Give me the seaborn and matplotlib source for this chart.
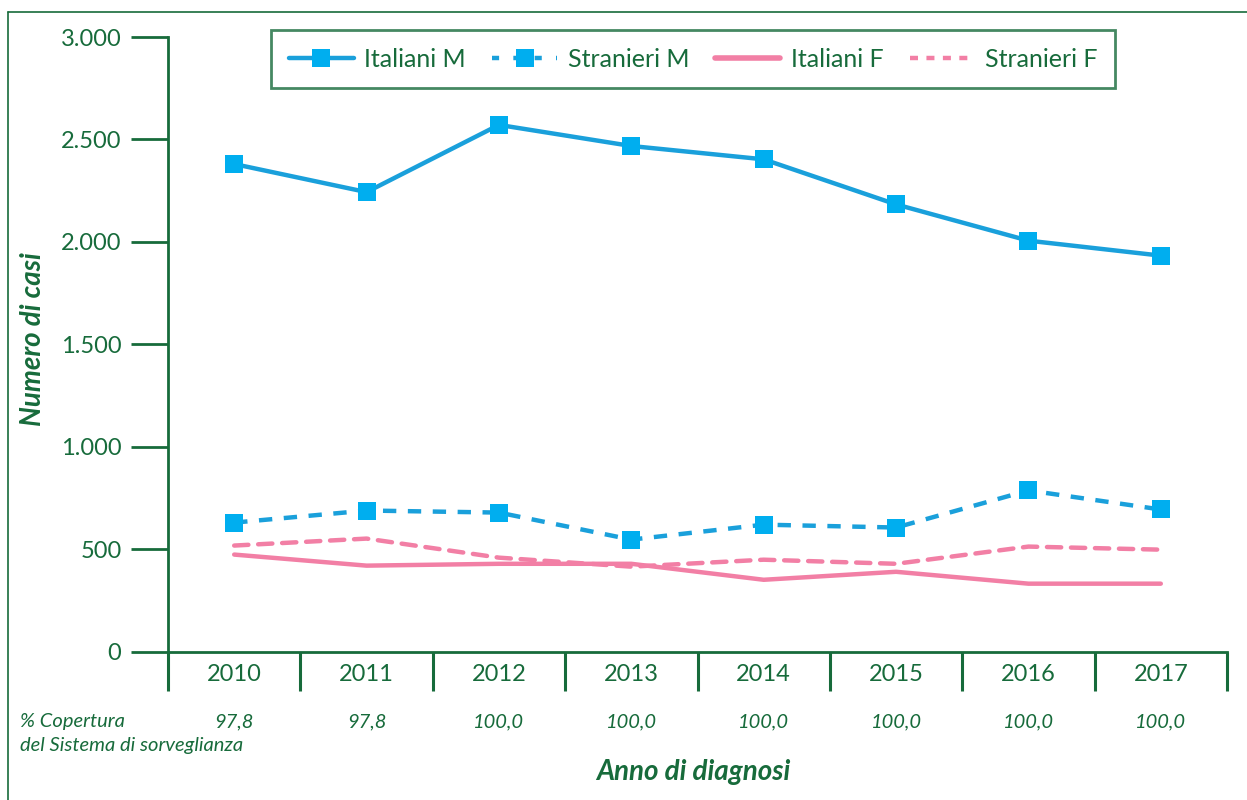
import matplotlib
matplotlib.use("Agg")
import matplotlib.pyplot as plt
import seaborn as sns
import pandas as pd
from matplotlib.lines import Line2D
from matplotlib.ticker import FixedLocator

# ---- data ----
years = ['2010', '2011', '2012', '2013', '2014', '2015', '2016', '2017']
italiani_m = [2380, 2243, 2571, 2468, 2403, 2183, 2006, 1933]
stranieri_m = [630, 689, 679, 547, 620, 606, 787, 694]
italiani_f = [474, 420, 429, 429, 351, 390, 332, 332]
stranieri_f = [518, 552, 459, 415, 449, 429, 513, 498]
copertura = ['97,8', '97,8', '100,0', '100,0', '100,0', '100,0', '100,0', '100,0']
yticks = [0, 500, 1000, 1500, 2000, 2500, 3000]
ytick_labels = ['0', '500', '1.000', '1.500', '2.000', '2.500', '3.000']

GREEN = '#176b3b'
BLUE_LINE = '#1aa0db'
BLUE_MARK = '#00aeef'
PINK = '#f27fa5'

sns.set_style("white")
plt.rcParams['font.family'] = ['Lato', 'DejaVu Sans']

W, H = 1247, 800
AX_BOTTOM = 651.7
AX_TOP = 37.0
fig = plt.figure(figsize=(W / 100, H / 100), dpi=100)
ax = fig.add_axes([168 / W, 1 - AX_BOTTOM / H, (1227 - 168) / W, (AX_BOTTOM - AX_TOP) / H])

df = pd.DataFrame({'anno': years, 'im': italiani_m, 'sm': stranieri_m,
                   'if': italiani_f, 'sf': stranieri_f})

sns.lineplot(data=df, x='anno', y='im', ax=ax, color=BLUE_LINE, lw=3.2,
             marker='s', markersize=12.5, markerfacecolor=BLUE_MARK,
             markeredgewidth=0, label='Italiani M', zorder=4)
sns.lineplot(data=df, x='anno', y='sm', ax=ax, color=BLUE_LINE, lw=3.2,
             marker='s', markersize=12.5, markerfacecolor=BLUE_MARK,
             markeredgewidth=0, label='Stranieri M', zorder=4)
sns.lineplot(data=df, x='anno', y='if', ax=ax, color=PINK, lw=3.2,
             label='Italiani F', zorder=3)
sns.lineplot(data=df, x='anno', y='sf', ax=ax, color=PINK, lw=3.2,
             label='Stranieri F', zorder=3)

lines = ax.get_lines()
lines[1].set_dashes((3, 2.6))
lines[3].set_dashes((3.2, 2.2))
lines[3].set_dash_capstyle('round')

ax.set_xlim(-0.5, len(years) - 0.5)
ax.set_ylim(0, 3000)
ax.set_yticks(yticks)
ax.set_yticklabels(ytick_labels)
ax.set_xlabel('')
ax.set_ylabel('')

for s in ['top', 'right']:
    ax.spines[s].set_visible(False)
for s in ['left', 'bottom']:
    ax.spines[s].set_color(GREEN)
    ax.spines[s].set_linewidth(2)

ax.tick_params(axis='y', direction='out', length=27, width=2, color=GREEN,
               labelcolor=GREEN, labelsize=17, pad=6.5, left=True)
ax.tick_params(axis='x', which='major', length=0, labelcolor=GREEN,
               labelsize=17, pad=9, bottom=True)
ax.xaxis.set_minor_locator(FixedLocator([i - 0.5 for i in range(len(years) + 1)]))
ax.tick_params(axis='x', which='minor', direction='out', length=28, width=2.2,
               color=GREEN, bottom=True)
ax.grid(False)

# legend
handles = [
    Line2D([], [], color=BLUE_LINE, lw=3.2, marker='s', markersize=12.5,
           markerfacecolor=BLUE_MARK, markeredgewidth=0),
    Line2D([], [], color=BLUE_LINE, lw=3.2, marker='s', markersize=12.5,
           markerfacecolor=BLUE_MARK, markeredgewidth=0, dashes=(1.6, 3.2)),
    Line2D([], [], color=PINK, lw=4),
    Line2D([], [], color=PINK, lw=3.2, dashes=(1.8, 1.9)),
]
leg = ax.legend(handles, ['Italiani M', 'Stranieri M', 'Italiani F', 'Stranieri F'],
                loc='upper center', bbox_to_anchor=(0.496, 1.011), ncol=4,
                frameon=True, fancybox=False, fontsize=18, handlelength=2.6,
                handletextpad=0.42, columnspacing=1.05, borderpad=0.7,
                borderaxespad=0)
leg.get_frame().set_edgecolor(GREEN)
leg.get_frame().set_linewidth(2)
for t in leg.get_texts():
    t.set_color(GREEN)

# coverage row
trans = ax.get_xaxis_transform()
for i, c in enumerate(copertura):
    ax.text(i, (AX_BOTTOM - 722) / (AX_BOTTOM - AX_TOP), c, transform=trans,
            ha='center', va='center', fontsize=14.5, style='italic', color=GREEN)
fig.text(20 / W, 1 - 722 / H, '% Copertura', ha='left', va='center',
         fontsize=14.5, style='italic', color=GREEN)
fig.text(20 / W, 1 - 746 / H, 'del Sistema di sorveglianza', ha='left', va='center',
         fontsize=14.5, style='italic', color=GREEN)

fig.text(693 / W, 1 - 772 / H, 'Anno di diagnosi', ha='center', va='center',
         fontsize=20, style='italic', weight='bold', color=GREEN)
fig.text(33 / W, 1 - 339 / H, 'Numero di casi', ha='center', va='center',
         fontsize=20, style='italic', weight='bold', color=GREEN, rotation=90)

# outer frame (left and top)
fig.add_artist(Line2D([8 / W, 8 / W], [0, 1 - 12 / H], transform=fig.transFigure,
                      color=GREEN, lw=1.2))
fig.add_artist(Line2D([8 / W, 1], [1 - 12 / H, 1 - 12 / H], transform=fig.transFigure,
                      color=GREEN, lw=1.2))

fig.savefig('out.png', dpi=100)
